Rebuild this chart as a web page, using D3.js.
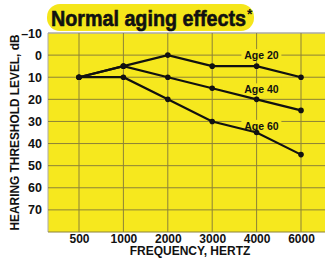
<!DOCTYPE html>
<html>
<head>
<meta charset="utf-8">
<script src="https://cdn.jsdelivr.net/npm/d3@7"></script>
<style>
  body { margin: 0; background: #fff; }
  text { font-family: "Liberation Sans", Arial, sans-serif; font-weight: bold; }
</style>
</head>
<body>
<div id="chart"></div>
<script>
const freqs = ["500", "1000", "2000", "3000", "4000", "6000"];
const age20 = [10, 5, 0, 5, 5, 10];
const age40 = [10, 5, 10, 15, 20, 25];
const age60 = [10, 10, 20, 30, 35, 45];
const seriesNames = ["Age 20", "Age 40", "Age 60"];
const yTicks = [-10, 0, 10, 20, 30, 40, 50, 60, 70];

const width = 325, height = 258;
const plotLeft = 48, plotTop = 33, plotBottom = 232;

const svg = d3.select("#chart").append("svg")
  .attr("width", width)
  .attr("height", height);

const x = d3.scalePoint().domain(freqs).range([79, 301]);
const y = d3.scaleLinear().domain([-10, 80]).range([plotTop, plotBottom]);

// title with highlight
svg.append("rect")
  .attr("x", 47).attr("y", 4).attr("width", 207).attr("height", 27)
  .attr("rx", 13).attr("fill", "#f5e61a");
const title = svg.append("text")
  .attr("x", 51).attr("y", 26)
  .attr("fill", "#111");
title.append("tspan")
  .attr("font-size", 22)
  .attr("stroke", "#111").attr("stroke-width", 0.6)
  .attr("textLength", 195).attr("lengthAdjust", "spacingAndGlyphs")
  .text("Normal aging effects");
title.append("tspan")
  .attr("dy", -7).attr("dx", 1)
  .attr("font-size", 14)
  .text("*");

// plot background
svg.append("rect")
  .attr("x", plotLeft).attr("y", plotTop)
  .attr("width", width - plotLeft).attr("height", plotBottom - plotTop)
  .attr("fill", "#f6e81e");
svg.append("line")
  .attr("x1", plotLeft).attr("x2", width)
  .attr("y1", plotTop).attr("y2", plotTop)
  .attr("stroke", "#aaa").attr("stroke-width", 1.5);
svg.append("line")
  .attr("x1", plotLeft).attr("x2", plotLeft)
  .attr("y1", plotTop).attr("y2", plotBottom)
  .attr("stroke", "#aaa").attr("stroke-width", 1);

// grid
svg.append("g")
  .selectAll("line")
  .data(yTicks.slice(1).concat([80]))
  .enter().append("line")
  .attr("x1", plotLeft).attr("x2", width)
  .attr("y1", d => y(d)).attr("y2", d => y(d))
  .attr("stroke", "#8c8238").attr("stroke-width", 1);
svg.append("g")
  .selectAll("line")
  .data(freqs)
  .enter().append("line")
  .attr("x1", d => x(d)).attr("x2", d => x(d))
  .attr("y1", plotTop).attr("y2", plotBottom)
  .attr("stroke", "#8c8238").attr("stroke-width", 1);

// axes
const yAxis = svg.append("g")
  .attr("transform", `translate(${plotLeft - 3},0)`)
  .call(d3.axisLeft(y).tickValues(yTicks).tickSize(0).tickFormat(d => d < 0 ? "\u2013" + Math.abs(d) : d));
yAxis.select(".domain").remove();
yAxis.selectAll("text").attr("font-size", 12.5).attr("fill", "#111")
  .style("font-family", "Liberation Sans, Arial, sans-serif").style("font-weight", "bold");

const xAxis = svg.append("g")
  .attr("transform", `translate(0,${plotBottom})`)
  .call(d3.axisBottom(x).tickSize(0).tickPadding(2));
xAxis.select(".domain").remove();
xAxis.selectAll("text").attr("font-size", 12).attr("fill", "#111")
  .style("font-family", "Liberation Sans, Arial, sans-serif").style("font-weight", "bold");

svg.append("text")
  .attr("x", 190).attr("y", 255)
  .attr("text-anchor", "middle")
  .attr("font-size", 12).attr("fill", "#111")
  .text("FREQUENCY, HERTZ");

svg.append("text")
  .attr("transform", `translate(19,${(plotTop + plotBottom) / 2}) rotate(-90)`)
  .attr("text-anchor", "middle")
  .attr("font-size", 12).attr("fill", "#111")
  .attr("textLength", 196).attr("lengthAdjust", "spacingAndGlyphs")
  .text("HEARING THRESHOLD LEVEL, dB");

// series label backgrounds (break the grid lines)
const labelDb = [0, 15.5, 32];
const labelX = (x("3000") + x("4000")) / 2 + 27;
svg.append("g")
  .selectAll("rect")
  .data(labelDb)
  .enter().append("rect")
  .attr("x", labelX - 20).attr("y", d => y(d) - 6)
  .attr("width", 40).attr("height", 12)
  .attr("fill", "#f6e81e");

// lines
const series = [age20, age40, age60];
const line = d3.line().x((d, i) => x(freqs[i])).y(d => y(d));
series.forEach(s => {
  svg.append("path")
    .datum(s)
    .attr("d", line)
    .attr("fill", "none")
    .attr("stroke", "#111")
    .attr("stroke-width", 2.2);
  svg.selectAll(null)
    .data(s)
    .enter().append("circle")
    .attr("cx", (d, i) => x(freqs[i]))
    .attr("cy", d => y(d))
    .attr("r", 2.8)
    .attr("fill", "#111");
});

// series labels
seriesNames.forEach((name, i) => {
  svg.append("text")
    .attr("x", labelX).attr("y", y(labelDb[i]) + 4)
    .attr("text-anchor", "middle")
    .attr("font-size", 10.5).attr("fill", "#111")
    .text(name);
});
</script>
</body>
</html>
